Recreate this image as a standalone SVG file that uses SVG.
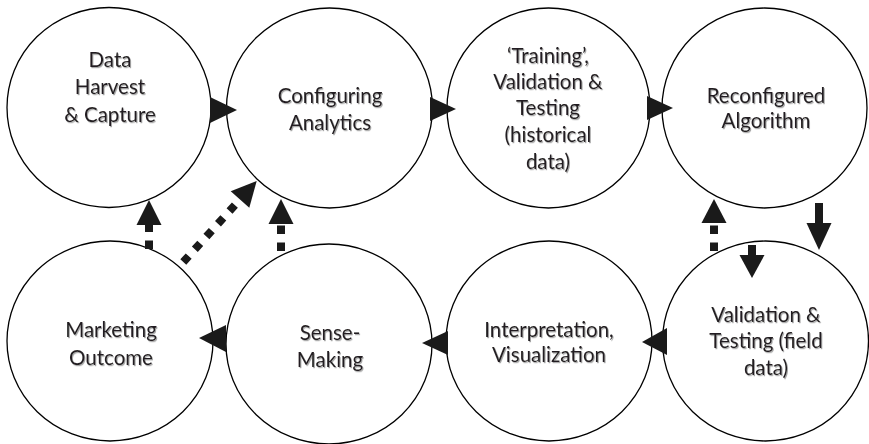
<svg xmlns="http://www.w3.org/2000/svg" width="869" height="444" viewBox="0 0 869 444">
<defs>
<filter id="sh" x="-10%" y="-10%" width="120%" height="130%">
<feDropShadow dx="1" dy="1.2" stdDeviation="0.6" flood-color="#808080" flood-opacity="0.7"/>
</filter>
</defs>
<style>
.node ellipse{fill:#fff;stroke:#000;stroke-width:1.3}
.node text{font-family:Lato,"Liberation Sans",sans-serif;font-size:20.5px;fill:#231f20;text-anchor:middle;filter:url(#sh)}
.head{fill:#1a1a1a}
.dash{stroke:#1a1a1a;stroke-width:8;fill:none;stroke-dasharray:8.5 8.5}
.solid{stroke:#1a1a1a;stroke-width:8;fill:none}
</style>
<rect width="869" height="444" fill="#fff"/>
<g id="n-data-harvest" class="node">
<ellipse cx="109" cy="107.5" rx="102" ry="100"/>
<text><tspan x="110" y="67">Data</tspan><tspan x="110" y="94">Harvest</tspan><tspan x="110" y="122">&amp; Capture</tspan></text>
</g>
<g id="n-configuring" class="node">
<ellipse cx="329.5" cy="108" rx="103" ry="100"/>
<text><tspan x="330" y="103">Configuring</tspan><tspan x="330" y="130">Analytics</tspan></text>
</g>
<g id="n-training" class="node">
<ellipse cx="548.5" cy="108" rx="101.5" ry="100"/>
<text><tspan x="548" y="63">‘Training’,</tspan><tspan x="548" y="89">Validation &amp;</tspan><tspan x="548" y="115">Testing</tspan><tspan x="548" y="142">(historical</tspan><tspan x="548" y="169">data)</tspan></text>
</g>
<g id="n-reconfigured" class="node">
<ellipse cx="764.5" cy="108" rx="102.5" ry="100"/>
<text><tspan x="766" y="103">Reconfigured</tspan><tspan x="766" y="128">Algorithm</tspan></text>
</g>
<g id="n-marketing" class="node">
<ellipse cx="110" cy="341" rx="103" ry="100"/>
<text><tspan x="111" y="337">Marketing</tspan><tspan x="111" y="365">Outcome</tspan></text>
</g>
<g id="n-sense" class="node">
<ellipse cx="329" cy="344" rx="103" ry="100"/>
<text><tspan x="330" y="340">Sense-</tspan><tspan x="330" y="367">Making</tspan></text>
</g>
<g id="n-interpretation" class="node">
<ellipse cx="549" cy="341" rx="103" ry="100"/>
<text><tspan x="549" y="337">Interpretation,</tspan><tspan x="549" y="362">Visualization</tspan></text>
</g>
<g id="n-validation-field" class="node">
<ellipse cx="765.5" cy="341" rx="103" ry="100"/>
<text><tspan x="766" y="322">Validation &amp;</tspan><tspan x="766" y="348">Testing (field</tspan><tspan x="766" y="375">data)</tspan></text>
</g>
<g id="connectors">
<polygon class="head" points="210,97 237,110 210,123"/>
<polygon class="head" points="430,97 456,109 430,121"/>
<polygon class="head" points="647,96 673,108 647,120"/>
<line class="solid" x1="819" y1="203" x2="819" y2="224"/>
<polygon class="head" points="806.5,223 831.5,223 819,250"/>
<line class="solid" x1="752" y1="245" x2="752" y2="256"/>
<polygon class="head" points="739.5,255 764.5,255 752,278"/>
<line class="dash" x1="714" y1="251" x2="714" y2="225"/>
<polygon class="head" points="701.5,223 726.5,223 714,199"/>
<polygon class="head" points="667,328 642,342 667,355"/>
<polygon class="head" points="448,331 422,343 448,355"/>
<polygon class="head" points="226,325 199,338 226,352"/>
<line class="dash" x1="149" y1="249" x2="149" y2="225"/>
<polygon class="head" points="136.5,225 161.5,225 149,200"/>
<line class="dash" x1="281" y1="251" x2="281" y2="225"/>
<polygon class="head" points="268.5,224 293.5,224 281,199"/>
<line class="dash" style="stroke-dasharray:8 9.2" x1="183.3" y1="262" x2="235" y2="205"/>
<polygon class="head" points="249.3,207.8 230.7,191.2 256.7,180.9"/>
</g>
</svg>
